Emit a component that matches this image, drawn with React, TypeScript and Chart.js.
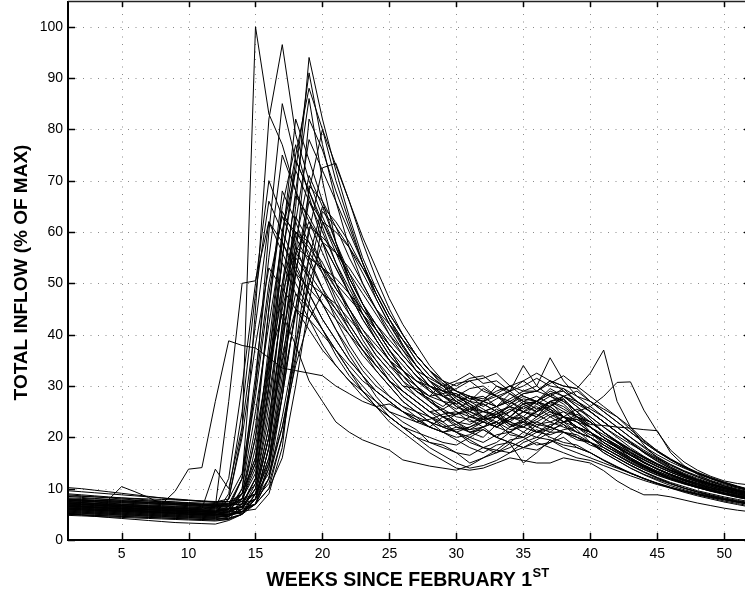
import React, { useEffect, useRef } from "react";
import { Chart, registerables } from "chart.js";
Chart.register(...registerables);

const weeks = [1,2,3,4,5,6,7,8,9,10,11,12,13,14,15,16,17,18,19,20,21,22,23,24,25,26,27,28,29,30,31,32,33,34,35,36,37,38,39,40,41,42,43,44,45,46,47,48,49,50,51,52];
const xTicks = [5,10,15,20,25,30,35,40,45,50];
const yTicks = [0,10,20,30,40,50,60,70,80,90,100];
const xTitle = "WEEKS SINCE FEBRUARY 1";
const xTitleSup = "ST";
const yTitle = "TOTAL INFLOW (% OF MAX)";

const s01 = [7.5,7.3,7.1,6.9,6.7,6.5,6.3,6.1,5.9,5.7,5.5,5.4, 8,21,100,83,77,68,62,56,50,45,40,36, 33,30,28,26,24,23,21.5,22,24,23,25,26,24,25,23,21, 18.5,17,15.5,14.2,13,12,11.2,10.5,9.8,9.2,8.7,8.2];
const s02 = [8.0,7.8,7.6,7.8,10.4,9.4,8.3,7.0,9.5,13.8,14.1,27, 38.8,37.9,37.4,35.5,33.5,33,32.5,32,30,28.5,27,26, 26.5,25,23.5,22,24,22.5,21,20,22.5,24,26.5,25,27,24,22,21, 19.5,18,16.5,15,13.8,12.8,11.9,11.1,10.4,9.8,9.2,8.7];
const s03 = [6.8,6.6,6.4,6.2,6.0,5.8,5.6,5.4,5.2,5.0,4.9,4.8, 6,12,45,82,96.5,79,70,63,57,51,46,42, 38,35,32,30,28,26,24.5,23,22,23.5,25,24,27,26,24,22, 20,18,16,14.5,13.2,12.1,11.2,10.4,9.7,9.1,8.6,8.1];
const s04 = [7.2,7.0,6.8,6.6,6.4,6.2,6.0,5.8,5.6,5.4,5.2,5.0, 5,5.2,8,18,40,65,94,82,72,63,55,49, 44,40,36,33,30,28,26.5,25,24,22,23,25.5,27,28,26,23.5, 21,19,17,15.2,13.8,12.6,11.6,10.8,10.1,9.5,8.9,8.4];
const s05 = [6.0,5.9,5.8,5.7,5.6,5.5,5.4,5.3,5.2,5.1,5.0,4.9, 5.5,7,12,30,55,72,91,77,66,57,50,45, 40,36,33,30,28,27,25,26.5,25,23,22,23.5,25,24,22,20, 18,16.5,15,13.8,12.7,11.8,11,10.3,9.7,9.1,8.6,8.1];
const s06 = [8.5,8.3,8.1,7.9,7.7,7.5,7.3,7.1,6.9,6.7,6.5,6.3, 6.5,9,15,35,60,75,88,80,73,66,59,53, 47,42,38,34,31,29,28,26,27.5,29,27,26.5,28,27,25,22, 20,18.5,17,15.6,14.3,13.2,12.2,11.4,10.7,10.1,9.6,9.1];
const s07 = [5.5,5.4,5.3,5.2,5.1,5.0,4.9,4.8,4.7,4.6,4.5,4.4, 4.6,6,10,22,48,68,86,70,58,50,44,39, 35,31,28,26,24,22,21,21.5,20,22,23.5,21,22,24,21.5,19, 17,15.5,14,12.8,11.8,10.9,10.1,9.4,8.8,8.2,7.7,7.2];
const s08 = [6.5,6.4,6.3,6.2,6.1,6.0,5.9,5.8,5.7,5.6,5.5,5.4, 6,10,30,60,85,74,68,61,54,48,43,39, 35,32,29,27,25.5,24,23.5,22,23,21.5,22,24,25.5,23,21,20, 18,16.5,15,13.7,12.6,11.7,10.9,10.2,9.6,9.0,8.5,8.0];
const s09 = [7.8,7.6,7.4,7.2,7.0,6.8,6.6,6.4,6.2,6.0,5.8,5.6, 6,8,14,32,58,82,74,66,58,51,46,42, 38,35,32,30,29,28.5,27,25.5,24,26.5,28,27,29.5,28,26,24, 22,20,18,16.3,14.8,13.5,12.4,11.5,10.7,10.0,9.4,8.8];
const s10 = [6.2,6.1,6.0,5.9,5.8,5.7,5.6,5.5,5.4,5.3,5.2,5.1, 5.2,5.5,7,12,28,55,82,76,68,61,54,48, 43,39,35,32,30,27.5,26,24,22.5,24,26,25,27,27.5,24,21, 19,17.5,16,14.6,13.4,12.4,11.5,10.7,10,9.4,8.8,8.3];
const s11 = [7.0,6.9,6.8,6.7,6.6,6.5,6.4,6.3,6.2,6.1,6.0,5.9, 6,6.5,8,14,30,52,68,80,70,62,54,47, 42,37.6,34,31,29,28,29.5,30,28,27,25.5,27,28.5,29,27,25, 23,21,19,17,15.3,13.9,12.7,11.7,10.8,10.1,9.5,8.9];
const s12 = [5.0,4.9,4.8,4.7,4.6,4.5,4.4,4.3,4.2,4.1,4.0,3.9, 4.5,8,20,45,65,77,67,58,50,44,39,35, 31,28,26,24,22.5,21,20,19,20.5,21,23,22,24,22.5,20,19, 17,15.5,14,12.7,11.6,10.6,9.8,9.1,8.5,7.9,7.4,6.9];
const s13 = [9.0,8.8,8.6,8.4,8.2,8.0,7.8,7.6,7.4,7.2,7.0,6.8, 6.8,7,9,15,28,45,60,72.5,73.4,66,58,51, 45,40,36,33,31,30,31.5,32,30,29,31,32.5,31,30,29.5,27, 25,23,21,19,17.2,15.6,14.2,13,12,11.1,10.4,9.7];
const s14 = [6.6,6.5,6.4,6.3,6.2,6.1,6.0,5.9,5.8,5.7,5.6,5.5, 6.5,12,32,55,75,68,60,53,47,42,38,34, 31,28,26,24,22,21,19.5,18,19,21,20,22.5,23,22,21,20, 18.5,17,15.5,14.2,13,12,11.1,10.3,9.6,9.0,8.4,7.9];
const s15 = [8.0,7.9,7.8,7.7,7.6,7.5,7.4,7.3,7.2,7.1,7.0,6.9, 7,9,16,38,60,72,66,60,54,49,44,40, 36,33,30,28,27,26.5,28,27,26,27,25,24,26,28,27,25.5, 24,22,20,18,16.2,14.7,13.4,12.3,11.3,10.5,9.8,9.2];
const s16 = [5.8,5.7,5.6,5.5,5.4,5.3,5.2,5.1,5.0,4.9,4.8,4.7, 4.8,5.5,8,18,38,58,71,65,58,52,46,41, 37,33,30,27,25,23,21,22,23,20.5,20,18.5,19,21,20,18.5, 17.5,16,14.6,13.3,12.2,11.2,10.4,9.6,9.0,8.4,7.9,7.4];
const s17 = [7.4,7.3,7.2,7.1,7.0,6.9,6.8,6.7,6.6,6.5,6.4,6.3, 12,30,50,70,63,57,51,46,41,37,33,30, 28,26,25,24,23,24.5,25,23.5,24,22.5,21,23,22,24,22,20.5, 19.5,18,16.5,15.1,13.8,12.7,11.7,10.9,10.2,9.6,9.0,8.5];
const s18 = [6.3,6.2,6.1,6.0,5.9,5.8,5.7,5.6,5.5,5.4,5.3,5.2, 5.5,9,22,45,68,62,55,49,43,38,34,31, 28,26,24,22,21,19.5,18,17,18.5,19,21,20,22,21,19.5,19, 17.5,16,14.5,13.2,12,11,10.1,9.4,8.7,8.1,7.6,7.1];
const s19 = [7.6,7.5,7.4,7.3,7.2,7.1,7.0,6.9,6.8,6.7,6.6,6.5, 6.6,8,13,30,50,67,63,58,53,48,44,40, 36,33,31,29,28,28.5,26,25,24.5,26,27.5,27,29,28,26.5,25, 23,21,19,17,15.4,14,12.8,11.8,10.9,10.2,9.5,8.9];
const s20 = [5.2,5.1,5.0,4.9,4.8,4.7,4.6,4.5,4.4,4.3,4.2,4.1, 4.2,5,7,15,32,52,66,62,57,51,46,41, 37,33,30,27,25,23,22.5,24,25.5,24,26,27,25,24,22,21, 19,17.3,15.7,14.3,13,11.9,11,10.2,9.5,8.9,8.3,7.8];
const s21 = [6.9,6.8,6.7,6.6,6.5,6.4,6.3,6.2,6.1,6.0,5.9,5.8, 5.8,6,7,10,20,38,55,65,62,58,53,48, 43,39,35,32,30,29,28,27.5,29,30,31,29,28,29.5,27,25, 23,21,19,17.2,15.6,14.2,13,12,11.1,10.3,9.6,9.0];
const s22 = [8.8,8.6,8.4,8.2,8.0,7.8,7.6,7.4,7.2,7.0,6.8,6.6, 7,12,28,48,64,59,54,49,45,41,37,34, 31,29,27,25,25.5,27,25,24,23,25,26.5,27,25.5,24,23,22, 20,18.5,17,15.6,14.3,13.2,12.2,11.3,10.5,9.8,9.2,8.7];
const s23 = [5.6,5.5,5.4,5.3,5.2,5.1,5.0,4.9,4.8,4.7,4.6,4.5, 4.6,6,11,26,46,63,58,52,46,41,37,33, 30,27,25,23,21,20,20.5,22,20,19,18,17.5,19,20,18,17, 15.5,14.2,13,12,11,10.2,9.5,8.8,8.2,7.6,7.1,6.6];
const s24 = [7.1,7.0,6.9,6.8,6.7,6.6,6.5,6.4,6.3,6.2,6.1,13.8, 10,22,42,62,56,50,45,41,37,34,31,29, 27,25,24,23,22,21,22,23.5,22,24,23.5,22,21,23,23.5,22, 20,18.3,16.7,15.2,13.9,12.8,11.8,11,10.2,9.6,9.0,8.5];
const s25 = [6.1,6.0,5.9,5.8,5.7,5.6,5.5,5.4,5.3,5.2,5.1,5.0, 5,5.5,7,14,28,45,61,59,56,52,48,44, 40,37,34,31,29,27,25.5,25,26,27.5,29,30,28,26.5,24,22, 20,18.2,16.6,15.1,13.8,12.6,11.6,10.7,9.9,9.2,8.6,8.0];
const s26 = [10.2,10.0,9.7,9.4,9.1,8.8,8.5,8.2,7.9,7.7,7.5,7.3, 7.4,9,16,34,50,60,57,53,49,45,41,38, 35,33,31,30,29,30.5,31,29,28,29,34,30,35.5,31,28,26, 24,22,20,18.2,16.6,15.2,14,12.9,11.9,11,10.2,9.5];
const s27 = [5.4,5.3,5.2,5.1,5.0,4.9,4.8,4.7,4.6,4.5,4.4,4.3, 5,10,25,42,58,52,46,41,36,32,29,26, 24,22,20,19,18,17,15,16,17,18.8,15,17,19.5,18,17,16, 15,14,13,12,11.1,10.3,9.6,9,8.4,7.9,7.4,7.0];
const s28 = [7.3,7.2,7.1,7.0,6.9,6.8,6.7,6.6,6.5,6.4,6.3,6.2, 6.2,6.5,8,12,22,36,50,58,56,53,49,45, 42,39,36,33,31,29,27.5,27,28.5,30,28,27,26,28,29,27, 25,23,21,19,17.2,15.6,14.2,13,12,11.1,10.3,9.6];
const s29 = [6.7,6.6,6.5,6.4,6.3,6.2,6.1,6.0,5.9,5.8,5.7,5.6, 5.7,7,12,28,45,56,52,48,44,40,36,33, 30,27,25,23,22,22.5,24,25,26,24,23,25,26,24,23,21, 19,17.3,15.8,14.4,13.2,12.1,11.2,10.4,9.7,9.1,8.5,8.0];
const s30 = [8.2,8.1,8.0,7.9,7.8,7.7,7.6,7.5,7.4,7.3,7.2,7.1, 7.1,7.5,9,16,30,44,55,53,50,47,44,41, 38,35,32,29,27,25,23,23.5,24,25,27,28,26.5,25,24,23, 21,19.3,17.7,16.2,14.9,13.7,12.7,11.8,11,10.3,9.7,9.1];
const s31 = [4.8,4.7,4.6,4.5,4.4,4.3,4.2,4.1,4.0,3.9,3.8,3.7, 4,7,18,36,54,48,43,38,34,31,28,26, 24,22,21,20,19,18.5,20,21.5,20,19,18,19.5,21,21,20,19, 17.5,16,14.6,13.3,12.1,11,10.1,9.3,8.6,8,7.4,6.9];
const s32 = [6.4,6.3,6.2,6.1,6.0,5.9,5.8,5.7,5.6,5.5,5.4,5.3, 8,20,38,53,49,45,41,37,34,31,29,27, 25,24,23,23.5,24.5,25,24,23,22,23.5,24,22.5,22,21,20.5,19, 18,16.6,15.2,14,12.9,11.9,11,10.2,9.5,8.9,8.3,7.8];
const s33 = [7.7,7.6,7.5,7.4,7.3,7.2,7.1,7.0,6.9,6.8,6.7,6.6, 6.6,7.5,11,24,40,52,49,46,43,40,37,34, 31,29,27,25,24,24.5,25.5,27,28,26,25,24.5,23,24,25.5,24, 22,20.3,18.7,17.2,15.8,14.5,13.3,12.3,11.4,10.6,9.9,9.3];
const s34 = [5.9,5.8,5.7,5.6,5.5,5.4,5.3,5.2,5.1,5.0,4.9,4.8, 4.9,5.5,7,12,24,38,50,48,45,42,38,35, 32,29,27,25,23,21,19,18,17,18,19.5,21,21.5,22.5,21,20, 18.5,17,15.5,14.2,13,12,11.1,10.3,9.6,9.0,8.4,7.9];
const s35 = [8.6,8.5,8.4,8.3,8.2,8.1,8.0,7.9,7.8,7.7,7.6,7.5, 7.5,8,9,13,22,34,43,48,46,43,40,37, 34,32,30,28,28.5,29.5,31,31.5,32.5,30,29,29,30.5,32,30,28, 26,24,21.5,19.3,17.4,15.8,14.4,13.2,12.2,11.3,10.5,9.8];
const s36 = [7.0,6.9,6.8,6.7,6.6,6.5,6.4,6.3,6.2,6.1,6.0,6.5, 27,50,50.5,62,58,53,48,43,39,35,32,29, 27,25,23,22,21,21.5,22,23,22,21,22.5,23,24.5,23,22,21, 19.5,18,16.5,15.1,13.9,12.8,11.8,11,10.2,9.6,9,8.5];
const s37 = [5.3,5.2,5.1,5.0,4.9,4.8,4.7,4.6,4.5,4.4,4.3,4.2, 4.3,5,9,20,35,45,43,40,37,33,30,27, 24,22,20,18,16.5,15,14,14.5,15.5,17,18,19,18,17,16,15.5, 14.5,13.5,12.5,11.6,10.8,10.1,9.5,8.9,8.4,7.9,7.5,7.1];
const s38 = [6.0,5.9,5.8,5.7,5.6,5.5,5.4,5.3,5.2,5.1,5.0,4.9, 5,6,10,22,42,60,58,54,49,45,41,37, 34,31,29,27.5,26,28,27,29.5,28,26.5,28.5,29,31,30,29.5,32.5, 37,27,22,18.5,16,14.2,12.8,11.7,10.8,10,9.4,8.8];
const s39 = [7.9,7.8,7.7,7.6,7.5,7.4,7.3,7.2,7.1,7.0,6.9,6.8, 6.8,7,8,11,20,35,52,64,61,57,52,47, 42,38,34,31,29.5,27,28,27,30,28.5,26.5,27,26,27.5,25,26, 28,30.7,30.8,25.3,21.1,17.5,15.2,13.6,12.4,11.5,11,10.7];
const s40 = [6.5,6.4,6.3,6.2,6.1,6.0,5.9,5.8,5.7,5.6,5.5,5.4, 5.5,6.5,10,20,38,56,62,58,53,48,43,39, 35,32,29,27.5,25,24.5,26,23.5,24,25.5,24,26.5,25,23,24,22.5, 22.3,22,21.8,21.5,21.3,17,14.5,12.8,11.5,10.5,9.7,9.1];
const s41 = [5.0,4.9,4.8,4.7,4.6,4.5,4.4,4.3,4.2,4.1,4.0,3.9, 4,5,8,18,36,48,45,41,37,33,29,26, 23,21,19,17,15.5,14,13.6,14,15,16,15.5,15,15,16,15.5,15, 13.5,11.5,10,8.8,8.8,8.4,7.8,7.2,6.7,6.2,5.8,5.5];
const s42 = [5.2,4.9,4.6,4.4,4.2,4.0,3.8,3.6,3.4,3.3,3.2,3.1, 3.8,5,8,16,34,55,51,46,41,36,32,28, 25,23,21.5,19,18.5,17,16.5,18,17.5,19.5,20,21.5,20,19,18.5,17, 15.6,14.3,13.1,12,11,10.1,9.3,8.6,8,7.4,6.9,6.4];
const s43 = [6.8,6.7,6.6,6.5,6.4,6.3,6.2,6.1,6.0,5.9,5.8,5.7, 6,9,20,35,44,38,31,27,23,21,19.5,18.5, 17.5,15.6,15,14.4,14,13.6,14.5,16,17.5,17,19,20,19.5,18.5,18,17, 15.5,14.2,13,11.9,11,10.2,9.5,8.9,8.3,7.8,7.3,6.9];
const s44 = [7.5,7.3,7.1,6.9,6.7,6.5,6.3,6.1,5.9,5.7,5.5,5.3, 5.4,6.5,12,30,55,74,68,62,56,50,45,41, 37,34,31,29.5,27,25.5,27,26.5,25,26,23.5,25,27,25.5,24,23, 21,19.2,17.6,16.1,14.8,13.6,12.6,11.7,10.9,10.2,9.6,9.0];
const s45 = [6.6,6.5,6.4,6.3,6.2,6.1,6.0,5.9,5.8,5.7,5.6,5.5, 5.5,5.6,6,9,18,40,69,66,61,55,50,45, 41,37,33,30,28.5,26,25,27,26,28.5,27,25.5,26,24,23.5,22, 20.5,19,17.5,16,14.7,13.5,12.5,11.6,10.8,10.1,9.5,8.9];
const s46 = [9.6,9.4,9.2,9.0,8.8,8.6,8.4,8.2,8.0,7.8,7.6,7.4, 8,13,30,50,63,60,56,52,48,44,40,36, 33,30,29.5,28,30.5,29,27.5,28,26,27,28.5,29,31,29,27,25, 23,21,19.2,17.5,16,14.7,13.5,12.5,11.6,10.8,10.1,9.5];
const s47 = [5.7,5.6,5.5,5.4,5.3,5.2,5.1,5.0,4.9,4.8,4.7,4.6, 4.7,5.5,9,20,42,62,78,72,66,60,54,48, 43,38,34,31,28,26.5,24,23.5,25,22.5,23,21,22.5,23,24.5,23, 21,19,17.2,15.7,14.4,13.2,12.2,11.3,10.5,9.8,9.2,8.6];
const s48 = [7.8,7.7,7.6,7.5,7.4,7.3,7.2,7.1,7.0,6.9,6.8,6.7, 6.8,8,15,33,48,57,55,53,51,48,45,42, 39,36,33,31.5,30,31,32.5,30.5,31,29,30,31.5,30,29.5,28,27, 25.5,24,22,19.5,17.4,15.7,14.3,13.1,12.1,11.2,10.4,9.7];
const s49 = [6.2,6.1,6.0,5.9,5.8,5.7,5.6,5.5,5.4,5.3,5.2,5.1, 9,25,48,66,60,54,48,43,39,35,32,29, 27,25,23.5,22,21,22,21.5,23,24.5,22.5,22,21,20.5,21.5,22,21, 19,17.5,16,14.6,13.4,12.3,11.3,10.5,9.8,9.1,8.5,8.0];
const s50 = [7.2,7.1,7.0,6.9,6.8,6.7,6.6,6.5,6.4,6.3,6.2,6.1, 6.1,6.3,7,10,16,30,46,62,60,57,53,49, 44,40,36,33,30.5,28,26.5,24,24.5,26,25,27,28.5,27,25,23, 21,19.2,17.5,16,14.7,13.5,12.5,11.6,10.8,10.1,9.5,8.9];

const series = [s01,s02,s03,s04,s05,s06,s07,s08,s09,s10,s11,s12,s13,s14,s15,s16,s17,s18,s19,s20,s21,s22,s23,s24,s25,s26,s27,s28,s29,s30,s31,s32,s33,s34,s35,s36,s37,s38,s39,s40,s41,s42,s43,s44,s45,s46,s47,s48,s49,s50];

const FONT = '"Liberation Sans", Arial, Helvetica, sans-serif';

const axesPlugin = {
  id: "matlabAxes",
  beforeDatasetsDraw(chart: any) {
    const { ctx, chartArea: a, scales } = chart;
    const x = scales.x, y = scales.y;
    ctx.save();
    ctx.strokeStyle = "#8a8a8a";
    ctx.lineWidth = 1;
    ctx.setLineDash([1, 6.5]);
    for (const t of xTicks) {
      const px = Math.round(x.getPixelForValue(t)) + 0.5;
      ctx.beginPath(); ctx.moveTo(px, a.bottom); ctx.lineTo(px, a.top); ctx.stroke();
    }
    for (const t of yTicks) {
      if (t === 0) continue;
      const py = Math.round(y.getPixelForValue(t)) + 0.5;
      ctx.beginPath(); ctx.moveTo(a.left, py); ctx.lineTo(a.right, py); ctx.stroke();
    }
    ctx.restore();
  },
  afterDatasetsDraw(chart: any) {
    const { ctx, chartArea: a, scales } = chart;
    const x = scales.x, y = scales.y;
    ctx.save();
    ctx.setLineDash([]);
    ctx.strokeStyle = "#000";
    ctx.lineWidth = 1.5;
    const tl = 7;
    for (const t of xTicks) {
      const px = Math.round(x.getPixelForValue(t)) + 0.5;
      ctx.beginPath(); ctx.moveTo(px, a.bottom); ctx.lineTo(px, a.bottom - tl); ctx.stroke();
      ctx.beginPath(); ctx.moveTo(px, a.top); ctx.lineTo(px, a.top + tl - 1); ctx.stroke();
    }
    for (const t of yTicks) {
      const py = Math.round(y.getPixelForValue(t)) + 0.5;
      ctx.beginPath(); ctx.moveTo(a.left, py); ctx.lineTo(a.left + tl, py); ctx.stroke();
      ctx.beginPath(); ctx.moveTo(a.right, py); ctx.lineTo(a.right - tl, py); ctx.stroke();
    }
    ctx.lineWidth = 2;
    ctx.beginPath(); ctx.moveTo(a.left, a.top); ctx.lineTo(a.left, a.bottom); ctx.lineTo(a.right, a.bottom); ctx.stroke();
    ctx.lineWidth = 1.5;
    ctx.strokeStyle = "#222";
    ctx.beginPath(); ctx.moveTo(a.left, a.top + 0.5); ctx.lineTo(a.right, a.top + 0.5); ctx.lineTo(a.right, a.bottom); ctx.stroke();
    ctx.restore();
  },
  afterDraw(chart: any) {
    const { ctx, chartArea: a } = chart;
    ctx.save();
    ctx.fillStyle = "#000";
    const mainFont = "bold 19.5px " + FONT;
    const supFont = "bold 13px " + FONT;
    ctx.font = mainFont;
    const w1 = ctx.measureText(xTitle).width;
    ctx.font = supFont;
    const w2 = ctx.measureText(xTitleSup).width;
    const cx = (a.left + a.right) / 2 - 2;
    const startX = cx - (w1 + w2) / 2;
    ctx.textAlign = "left";
    ctx.textBaseline = "alphabetic";
    ctx.font = mainFont;
    ctx.fillText(xTitle, startX, 586);
    ctx.font = supFont;
    ctx.fillText(xTitleSup, startX + w1 + 0.5, 577);
    ctx.translate(22, (a.top + a.bottom) / 2 + 2);
    ctx.rotate(-Math.PI / 2);
    ctx.font = "bold 19px " + FONT;
    ctx.textAlign = "center";
    ctx.textBaseline = "middle";
    ctx.fillText(yTitle, 0, 0);
    ctx.restore();
  },
};

export default function App() {
  const ref = useRef<HTMLCanvasElement | null>(null);
  useEffect(() => {
    if (!ref.current) return;
    const datasets = series.map((s) => ({
      data: weeks.map((w, i) => ({ x: w, y: s[i] })),
      borderColor: "#000",
      backgroundColor: "#000",
      borderWidth: 1,
      pointRadius: 0,
      fill: false,
      tension: 0,
    }));
    const chart = new Chart(ref.current, {
      type: "line",
      data: { datasets },
      options: {
        animation: false,
        responsive: false,
        devicePixelRatio: 1,
        events: [],
        layout: { padding: { left: 0, right: 9, top: 1, bottom: 0 } },
        plugins: { legend: { display: false }, tooltip: { enabled: false }, title: { display: false } },
        scales: {
          x: {
            type: "linear",
            min: 1,
            max: 52,
            grid: { display: false, drawTicks: false },
            border: { display: false },
            afterFit: (s: any) => { s.height = 56; s.paddingLeft = 0; s.paddingRight = 0; },
            afterBuildTicks: (s: any) => { s.ticks = xTicks.map((v) => ({ value: v })); },
            ticks: { autoSkip: false, maxRotation: 0, padding: 6, color: "#000", font: { family: FONT, size: 14 } },
          },
          y: {
            type: "linear",
            min: 0,
            max: 105,
            grid: { display: false, drawTicks: false },
            border: { display: false },
            afterFit: (s: any) => { s.width = 68; s.paddingTop = 0; s.paddingBottom = 0; },
            afterBuildTicks: (s: any) => { s.ticks = yTicks.map((v) => ({ value: v })); },
            ticks: { autoSkip: false, padding: 5, color: "#000", font: { family: FONT, size: 14 } },
          },
        },
      },
      plugins: [axesPlugin],
    } as any);
    return () => chart.destroy();
  }, []);
  return (
    <div style={{ position: "fixed", left: 0, top: 0, width: 745, height: 596, overflow: "hidden", background: "#fff" }}>
      <canvas ref={ref} width={760} height={596} style={{ display: "block", width: 760, height: 596 }} />
    </div>
  );
}
